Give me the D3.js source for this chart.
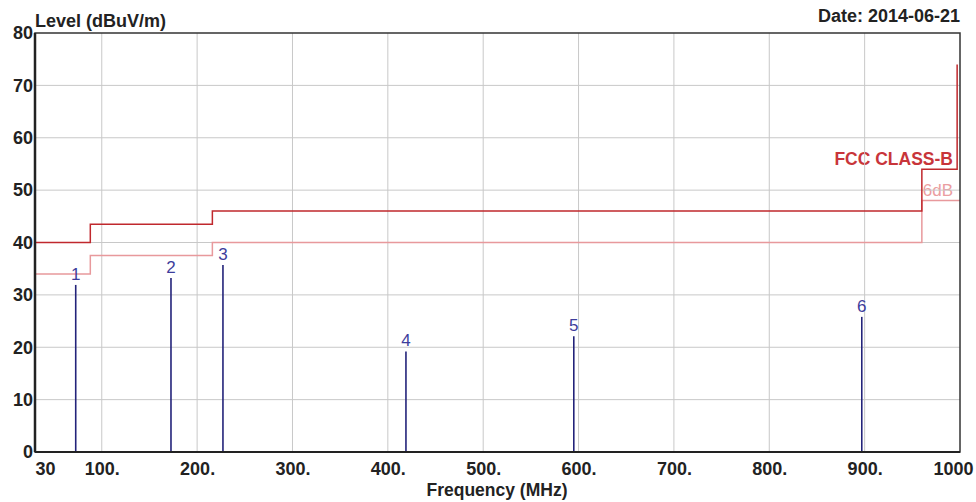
<!DOCTYPE html>
<html>
<head>
<meta charset="utf-8">
<script src="https://cdn.jsdelivr.net/npm/d3@7"></script>
<style>
  body { margin: 0; background: #fff; }
  text { font-family: "Liberation Sans", Arial, sans-serif; }
</style>
</head>
<body>
<script>
// limit lines (step functions, MHz -> dBuV/m)
var limitFreq = [30, 88, 88, 216, 216, 960, 960, 997, 997];
var limitLevel = [40, 40, 43.5, 43.5, 46, 46, 54, 54, 74];
var marginFreq = [30, 88, 88, 216, 216, 960, 960, 1000];
var marginLevel = [34, 34, 37.5, 37.5, 40, 40, 48, 48];

// measured peaks
var peakId = ["1", "2", "3", "4", "5", "6"];
var peakFreq = [72.7, 172.6, 227.1, 419, 595, 897];
var peakLevel = [31.9, 33.2, 35.7, 19.2, 22.1, 25.8];

var xTicks = [30, 100, 200, 300, 400, 500, 600, 700, 800, 900, 1000];
var yTicks = [0, 10, 20, 30, 40, 50, 60, 70, 80];

var width = 976, height = 502;
var margin = {top: 33, right: 16, bottom: 50, left: 35};
var w = width - margin.left - margin.right,
    h = height - margin.top - margin.bottom;

var svg = d3.select("body").append("svg")
  .attr("width", width)
  .attr("height", height);

var x = d3.scaleLinear().domain([30, 1000]).range([0, w]);
var y = d3.scaleLinear().domain([0, 80]).range([h, 0]);

var g = svg.append("g")
  .attr("transform", "translate(" + margin.left + "," + margin.top + ")");

// limit labels (drawn under the grid, as in the original)
g.append("text")
  .attr("x", x(1000) - 7).attr("y", y(54) - 4)
  .attr("text-anchor", "end")
  .attr("font-size", 17.5).attr("font-weight", "bold")
  .attr("fill", "#c8353a")
  .text("FCC CLASS-B");
g.append("text")
  .attr("x", x(1000) - 7).attr("y", y(48) - 5)
  .attr("text-anchor", "end")
  .attr("font-size", 17)
  .attr("fill", "#eb9da0")
  .text("6dB");

// grid
g.append("g")
  .selectAll("line")
  .data(xTicks.slice(1, -1))
  .join("line")
  .attr("x1", d => x(d)).attr("x2", d => x(d))
  .attr("y1", 0).attr("y2", h)
  .attr("stroke", "#c8c8c8");
g.append("g")
  .selectAll("line")
  .data(yTicks.slice(1, -1))
  .join("line")
  .attr("x1", 0).attr("x2", w)
  .attr("y1", d => y(d)).attr("y2", d => y(d))
  .attr("stroke", "#c8c8c8");

// limit lines
var line = d3.line().x(d => x(d[0])).y(d => y(d[1]));
g.append("path")
  .datum(d3.zip(marginFreq, marginLevel))
  .attr("d", line)
  .attr("fill", "none")
  .attr("stroke", "#e8999c")
  .attr("stroke-width", 1.5);
g.append("path")
  .datum(d3.zip(limitFreq, limitLevel))
  .attr("d", line)
  .attr("fill", "none")
  .attr("stroke", "#c0282d")
  .attr("stroke-width", 1.5);

// peaks
var peaks = d3.zip(peakId, peakFreq, peakLevel);
g.selectAll("line.peak")
  .data(peaks)
  .join("line")
  .attr("class", "peak")
  .attr("x1", d => x(d[1])).attr("x2", d => x(d[1]))
  .attr("y1", d => y(d[2])).attr("y2", y(0))
  .attr("stroke", "#23237a")
  .attr("stroke-width", 1.6);
g.selectAll("text.peak")
  .data(peaks)
  .join("text")
  .attr("class", "peak")
  .attr("x", d => x(d[1]))
  .attr("y", d => y(d[2]) - 5)
  .attr("text-anchor", "middle")
  .attr("font-size", 17)
  .attr("fill", "#3d3d9c")
  .text(d => d[0]);

// frame
g.append("rect")
  .attr("width", w).attr("height", h)
  .attr("fill", "none")
  .attr("stroke", "#333")
  .attr("stroke-width", 1.5);
g.append("line")
  .attr("x1", 0).attr("x2", 0).attr("y1", 0).attr("y2", h)
  .attr("stroke", "#222").attr("stroke-width", 2.5);
g.append("line")
  .attr("x1", 0).attr("x2", w).attr("y1", h).attr("y2", h)
  .attr("stroke", "#222").attr("stroke-width", 2);

// axes
var xAxis = g.append("g")
  .attr("transform", "translate(0," + h + ")")
  .call(d3.axisBottom(x).tickValues(xTicks).tickSize(0).tickPadding(10)
    .tickFormat(d => (d === 30 || d === 1000) ? String(d) : d + "."));
xAxis.select(".domain").remove();
xAxis.selectAll("text")
  .attr("font-size", 18).attr("font-weight", "bold").attr("fill", "#222")
  .attr("font-family", "Liberation Sans, Arial, sans-serif")
  .attr("text-anchor", d => d === 30 ? "start" : "middle")
  .attr("dx", d => d === 1000 ? -7 : 0);

var yAxis = g.append("g")
  .call(d3.axisLeft(y).tickValues(yTicks).tickSize(0).tickPadding(2));
yAxis.select(".domain").remove();
yAxis.selectAll("text")
  .attr("font-size", 18).attr("font-weight", "bold").attr("fill", "#222")
  .attr("font-family", "Liberation Sans, Arial, sans-serif");

// titles
svg.append("text")
  .attr("x", margin.left).attr("y", 27)
  .attr("font-size", 18).attr("font-weight", "bold").attr("fill", "#222")
  .text("Level (dBuV/m)");
svg.append("text")
  .attr("x", margin.left + w).attr("y", 22)
  .attr("text-anchor", "end")
  .attr("font-size", 18).attr("font-weight", "bold").attr("fill", "#222")
  .text("Date: 2014-06-21");
svg.append("text")
  .attr("x", 497).attr("y", 496)
  .attr("text-anchor", "middle")
  .attr("font-size", 17.5).attr("font-weight", "bold").attr("fill", "#222")
  .text("Frequency (MHz)");
</script>
</body>
</html>
